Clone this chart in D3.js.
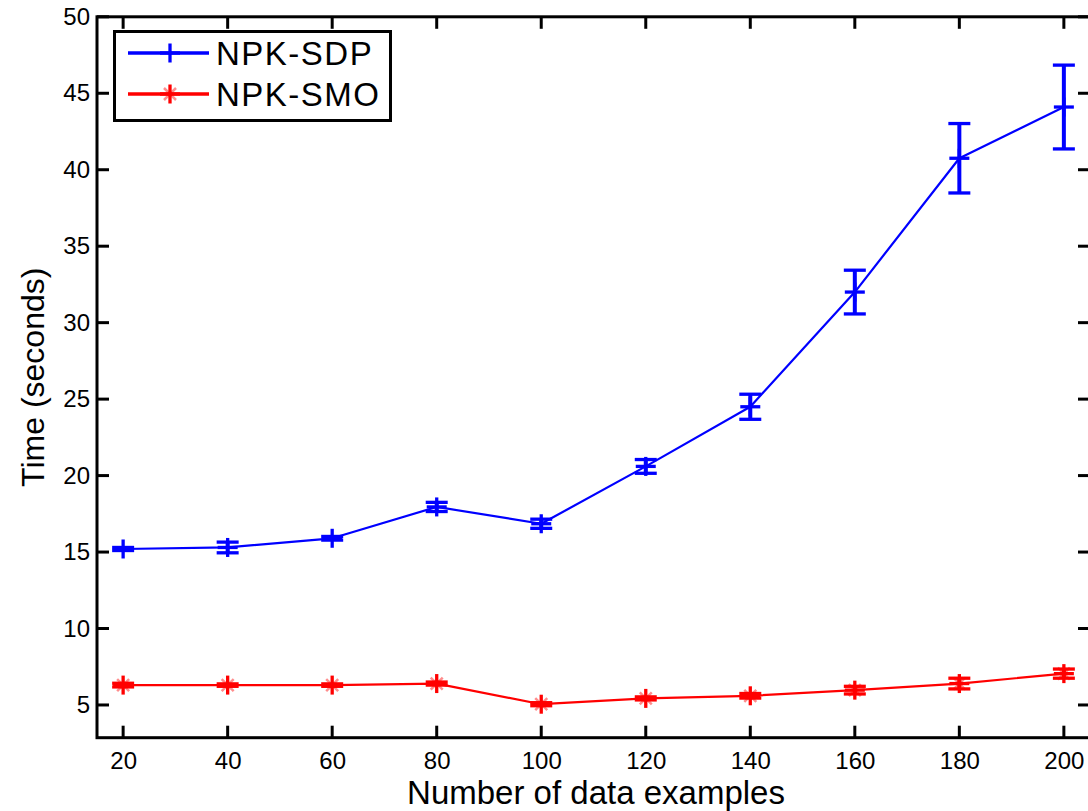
<!DOCTYPE html>
<html>
<head>
<meta charset="utf-8">
<script src="https://cdn.jsdelivr.net/npm/d3@7"></script>
<style>
  html, body { margin: 0; padding: 0; background: #fff; }
  svg { display: block; }
  text { font-family: "Liberation Sans", Arial, Helvetica, sans-serif; fill: #000; }
</style>
</head>
<body>
<svg id="chart" width="1088" height="811"></svg>
<script>
// ---- data ----
const examples = [20, 40, 60, 80, 100, 120, 140, 160, 180, 200];
const sdpTime  = [15.2, 15.3, 15.9, 17.95, 16.85, 20.6, 24.5, 32.0, 40.75, 44.1];
const sdpError = [0.1, 0.35, 0.12, 0.3, 0.3, 0.45, 0.82, 1.43, 2.27, 2.74];
const smoTime  = [6.3, 6.3, 6.3, 6.4, 5.05, 5.43, 5.6, 5.97, 6.4, 7.05];
const smoError = [0.12, 0.08, 0.08, 0.1, 0.1, 0.1, 0.15, 0.25, 0.35, 0.3];
const xTicks = [20, 40, 60, 80, 100, 120, 140, 160, 180, 200];
const yTicks = [5, 10, 15, 20, 25, 30, 35, 40, 45, 50];
const seriesNames = ["NPK-SDP", "NPK-SMO"];
const seriesColors = ["#0000ff", "#ff0000"];

// ---- layout ----
const svg = d3.select("#chart");
const L = 97, R = 1090, T = 16.8, B = 737.7;
const x = d3.scaleLinear().domain([15, 205]).range([L, R]);
const y = d3.scaleLinear().domain([2.86, 50]).range([B, T]);

const tickLen = 12, axisW = 3;

// axes (box)
const axG = svg.append("g");
axG.append("g").attr("transform", `translate(0,${B})`)
  .call(d3.axisBottom(x).tickValues(xTicks).tickSize(0).tickPadding(14).tickFormat(d3.format("d")))
  .call(g => { g.select(".domain").remove(); g.selectAll("text").attr("font-size", 24).attr("fill", "#000"); });
axG.append("g").attr("transform", `translate(${L},0)`)
  .call(d3.axisLeft(y).tickValues(yTicks).tickSize(0).tickPadding(7).tickFormat(d3.format("d")))
  .call(g => { g.select(".domain").remove(); g.selectAll("text").attr("font-size", 24).attr("fill", "#000"); });

// tick marks inside on all four sides
const tk = svg.append("g").attr("stroke", "#000").attr("stroke-width", axisW);
xTicks.forEach(v => {
  tk.append("line").attr("x1", x(v)).attr("x2", x(v)).attr("y1", B).attr("y2", B - tickLen);
  tk.append("line").attr("x1", x(v)).attr("x2", x(v)).attr("y1", T).attr("y2", T + tickLen);
});
yTicks.forEach(v => {
  tk.append("line").attr("x1", L).attr("x2", L + tickLen).attr("y1", y(v)).attr("y2", y(v));
  tk.append("line").attr("x1", R).attr("x2", R - tickLen).attr("y1", y(v)).attr("y2", y(v));
});
svg.append("rect").attr("x", L).attr("y", T).attr("width", R - L).attr("height", B - T)
  .attr("fill", "none").attr("stroke", "#000").attr("stroke-width", axisW);

// axis labels
svg.append("text").attr("x", 596).attr("y", 804)
  .attr("text-anchor", "middle").attr("font-size", 33).text("Number of data examples");
svg.append("text").attr("transform", `translate(44,${(T + B) / 2}) rotate(-90)`)
  .attr("text-anchor", "middle").attr("font-size", 32).text("Time (seconds)");

// series
function drawSeries(vals, errs, color, star) {
  const g = svg.append("g");
  const pts = examples.map((e, i) => [x(e), y(vals[i])]);
  g.append("path").attr("d", d3.line()(pts)).attr("fill", "none")
    .attr("stroke", color).attr("stroke-width", 2.2).attr("stroke-linejoin", "round");
  const cap = 11;
  examples.forEach((e, i) => {
    const cx = x(e), y1 = y(vals[i] - errs[i]), y2 = y(vals[i] + errs[i]);
    g.append("line").attr("x1", cx).attr("x2", cx).attr("y1", y1).attr("y2", y2)
      .attr("stroke", color).attr("stroke-width", 4);
    [y1, y2].forEach(yy => g.append("line").attr("x1", cx - cap).attr("x2", cx + cap)
      .attr("y1", yy).attr("y2", yy).attr("stroke", color).attr("stroke-width", 3.3));
    drawMarker(g, cx, y(vals[i]), color, star);
  });
}
function drawMarker(g, cx, cy, color, star) {
  const h = 10, v = 9.5;
  g.append("line").attr("x1", cx - h).attr("x2", cx + h).attr("y1", cy).attr("y2", cy)
    .attr("stroke", color).attr("stroke-width", 3.3);
  g.append("line").attr("x1", cx).attr("x2", cx).attr("y1", cy - v).attr("y2", cy + v)
    .attr("stroke", color).attr("stroke-width", 3.3);
  if (star) {
    const d = 6;
    g.append("path").attr("d", `M${cx - d},${cy - d}L${cx + d},${cy + d}M${cx - d},${cy + d}L${cx + d},${cy - d}`)
      .attr("stroke", color).attr("stroke-width", 2.5).attr("stroke-opacity", 0.45);
  }
}
drawSeries(sdpTime, sdpError, seriesColors[0], false);
drawSeries(smoTime, smoError, seriesColors[1], true);

// legend
const lg = svg.append("g");
lg.append("rect").attr("x", 114.5).attr("y", 31.5).attr("width", 276).attr("height", 89)
  .attr("fill", "#fff").attr("stroke", "#000").attr("stroke-width", 3);
[53, 94].forEach((yy, i) => {
  lg.append("line").attr("x1", 128).attr("x2", 209).attr("y1", yy).attr("y2", yy)
    .attr("stroke", seriesColors[i]).attr("stroke-width", 3.5);
  drawMarker(lg, 170, yy, seriesColors[i], i === 1);
  lg.append("text").attr("x", 216).attr("y", yy + 12).attr("font-size", 33)
    .attr("letter-spacing", 1.5).text(seriesNames[i]);
});
</script>
</body>
</html>
